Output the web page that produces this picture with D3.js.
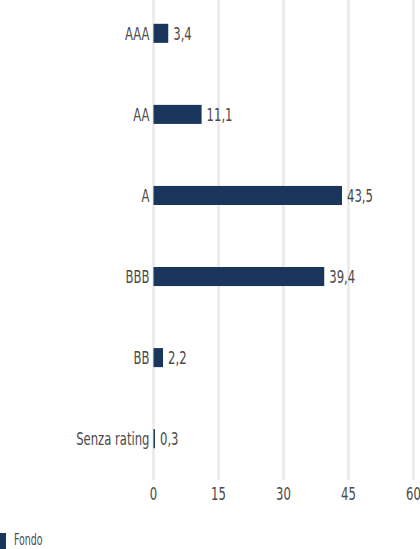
<!DOCTYPE html>
<html>
<head>
<meta charset="utf-8">
<script src="https://cdn.jsdelivr.net/npm/d3@7"></script>
<style>
  html, body { margin: 0; padding: 0; background: #fff; }
  svg { display: block; font-family: "DejaVu Sans Condensed", "Liberation Sans Narrow", "Roboto", sans-serif; }
</style>
</head>
<body>
<svg id="chart" width="420" height="549"></svg>
<script>
// dati
const categorie = ['AAA', 'AA', 'A', 'BBB', 'BB', 'Senza rating'];
const valori = [3.4, 11.1, 43.5, 39.4, 2.2, 0.3];
const ticks = [0, 15, 30, 45, 60];
const serie = 'Fondo';

const svg = d3.select('#chart');
const coloreBarra = '#1b365d';
const coloreTesto = '#4a4a4a';
const fs = 18.5;   // dimensione testo
const sx = 0.7;    // carattere stretto (condensed)

const x = d3.scaleLinear().domain([0, 60]).range([153.5, 413.5]);
const y = d3.scaleBand().domain(categorie).range([-7, 479]).paddingInner(0.765).paddingOuter(0.38);

// testo "stretto" con scala orizzontale
function testo(sel, px, py) {
    return sel.append('text')
        .attr('transform', (d, i) => `translate(${px(d, i)},${py(d, i)}) scale(${sx},1)`)
        .attr('font-size', fs)
        .attr('fill', coloreTesto);
}

// griglia
svg.append('g')
    .selectAll('line')
    .data(ticks)
    .enter()
    .append('line')
    .attr('x1', d => x(d)).attr('x2', d => x(d))
    .attr('y1', 0).attr('y2', 480)
    .attr('stroke', '#ebe9e7')
    .attr('stroke-width', 2.5);

// etichette asse
const gTick = svg.append('g').selectAll('g').data(ticks).enter().append('g');
testo(gTick, d => x(d), () => 500)
    .attr('text-anchor', 'middle')
    .text(d => d);

// barre
const righe = svg.append('g')
    .selectAll('g')
    .data(categorie)
    .enter()
    .append('g');

righe.append('rect')
    .attr('x', x(0))
    .attr('y', d => y(d))
    .attr('width', (d, i) => Math.max(x(valori[i]) - x(0), 1.5))
    .attr('height', y.bandwidth())
    .attr('fill', coloreBarra);

testo(righe, () => x(0) - 4, d => y(d) + y.bandwidth() / 2)
    .attr('dy', '0.36em')
    .attr('text-anchor', 'end')
    .text(d => d);

testo(righe, (d, i) => Math.max(x(valori[i]), x(0) + 1.5) + 5, d => y(d) + y.bandwidth() / 2)
    .attr('dy', '0.36em')
    .text((d, i) => d3.format('.1f')(valori[i]).replace('.', ','));

// legenda
svg.append('rect')
    .attr('x', 0).attr('y', 533)
    .attr('width', 6).attr('height', 16)
    .attr('fill', coloreBarra);
svg.append('text')
    .attr('transform', `translate(14,545) scale(${sx},1)`)
    .attr('font-size', 15)
    .attr('fill', coloreTesto)
    .text(serie);
</script>
</body>
</html>
